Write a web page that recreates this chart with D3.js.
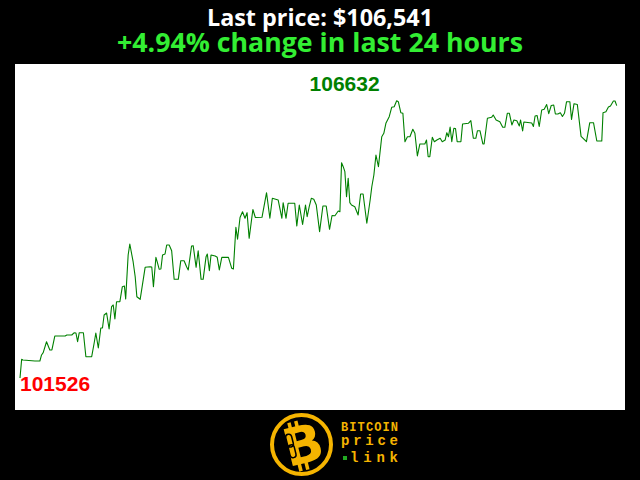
<!DOCTYPE html>
<html>
<head>
<meta charset="utf-8">
<script src="https://cdn.jsdelivr.net/npm/d3@7"></script>
<style>
html,body{margin:0;padding:0;background:#000;}
svg{display:block;}
</style>
</head>
<body>
<svg id="chart" width="640" height="480"></svg>
<script>
// minutes since start of the 24h window
const times = [0,4,7,36,48,52,56,64,72,77,84,109,113,125,131,135,139,143,153,159,173,179,183,189,195,199,203,209,215,221,225,229,233,241,247,252,255,261,265,273,278,282,290,302,314,318,322,328,331,336,340,344,350,354,360,366,372,382,388,396,402,406,414,418,425,430,437,442,449,452,457,461,471,476,481,487,503,511,515,521,525,531,537,543,548,553,562,568,584,591,595,603,609,623,632,635,642,647,663,668,674,682,689,693,698,703,709,715,723,731,739,747,753,760,768,772,776,780,784,788,792,796,800,808,816,822,828,837,845,849,854,859,865,873,878,883,891,897,903,909,913,919,924,929,935,941,948,953,959,965,977,981,985,989,995,1000,1006,1014,1019,1026,1030,1034,1038,1042,1047,1051,1055,1064,1068,1082,1088,1094,1100,1104,1110,1117,1120,1128,1138,1142,1149,1158,1165,1170,1176,1181,1187,1192,1199,1205,1208,1213,1216,1235,1239,1243,1248,1253,1259,1265,1271,1276,1282,1288,1292,1298,1304,1309,1314,1319,1327,1331,1337,1345,1354,1359,1367,1375,1384,1392,1404,1407,1414,1420,1425,1432,1436,1440];
// BTC price (USD)
const prices = [101526,101870,101857,101839,101839,101950,101992,102194,102042,102042,102299,102299,102318,102318,102360,102355,102194,102360,102360,101918,101918,102170,102355,102078,102447,102447,102686,102723,102428,102839,102870,102612,102931,102931,103207,103220,102981,103791,103993,103667,103391,103023,102975,103564,103575,103570,103207,103748,103667,103528,103533,103791,103809,103975,103975,103870,103343,103343,103686,103686,103575,103515,103957,103962,103564,103870,103343,103343,103760,103809,103502,103791,103772,103748,103515,103748,103748,103546,103533,104301,104080,104481,104588,104467,104570,104098,104629,104481,104485,104772,104938,104467,104835,104804,104467,104754,104467,104743,104743,104325,104711,104352,104711,104496,104680,104835,104816,104711,104220,104693,104693,104264,104518,104514,104601,104588,105490,105417,105325,104864,105203,104754,104711,104680,104527,104914,104914,104375,104804,105048,105264,105632,105417,105969,106032,106216,106337,106510,106521,106632,106614,106411,106400,105877,105969,105969,106105,106032,105614,105835,105835,105908,105601,105601,105958,105877,105908,105940,105877,105908,106043,105969,106148,105877,106124,106120,105877,105877,106203,106216,106264,105940,105940,106080,106080,105835,105835,106308,106326,106369,106277,106245,106142,106142,106400,106400,106185,106277,106264,106166,106277,106074,106240,106221,106157,106350,106359,106157,106461,106474,106562,106393,106544,106553,106387,106387,106411,106341,106400,106614,106614,106289,106577,106562,105976,105940,105877,106227,106227,105890,105890,106411,106429,106516,106534,106626,106626,106541];
const titleLine1 = "Last price: $106,541";
const titleLine2 = "+4.94% change in last 24 hours";
const logoLines = ["BITCOIN", "price", "link"];

const svg = d3.select("#chart");
svg.append("rect").attr("width",640).attr("height",480).attr("fill","#000");

// titles
svg.append("text").attr("x",320).attr("y",26).attr("text-anchor","middle")
  .attr("font-family","'Open Sans', sans-serif").attr("font-weight",700).attr("font-size",24)
  .attr("textLength",226).attr("lengthAdjust","spacingAndGlyphs")
  .attr("fill","#fff").text(titleLine1);
svg.append("text").attr("x",320).attr("y",52).attr("text-anchor","middle")
  .attr("font-family","'Open Sans', sans-serif").attr("font-weight",700).attr("font-size",27)
  .attr("textLength",406).attr("lengthAdjust","spacingAndGlyphs")
  .attr("fill","#33ee33").text(titleLine2);

// plot area
svg.append("rect").attr("x",15).attr("y",64).attr("width",610).attr("height",346).attr("fill","#fff");

const data = times.map((t,i)=>({t:t, p:prices[i]}));
const x = d3.scaleLinear().domain(d3.extent(times)).range([20, 616.7]);
const y = d3.scaleLinear().domain(d3.extent(prices)).range([378, 100.7]);

svg.append("path").datum(data)
  .attr("d", d3.line().x(d=>x(d.t)).y(d=>y(d.p)))
  .attr("fill","none").attr("stroke","#008000").attr("stroke-width",1.1)
  .attr("stroke-linejoin","round");

const maxD = data.reduce((a,b)=> b.p>a.p?b:a);
const minD = data.reduce((a,b)=> b.p<a.p?b:a);
svg.append("text").attr("x", x(maxD.t)-17).attr("y", y(maxD.p)-10)
  .attr("text-anchor","end").attr("font-family","'Liberation Sans', Arial, sans-serif")
  .attr("font-weight",700).attr("font-size",21).attr("fill","#008000").text(maxD.p);
svg.append("text").attr("x", x(minD.t)).attr("y", y(minD.p)+13)
  .attr("text-anchor","start").attr("font-family","'Liberation Sans', Arial, sans-serif")
  .attr("font-weight",700).attr("font-size",21).attr("fill","#ff0000").text(minD.p);

// logo
const gold = "#f5b400";
const logo = svg.append("g");
logo.append("circle").attr("cx",301.5).attr("cy",444.5).attr("r",29.5)
  .attr("fill","#000").attr("stroke",gold).attr("stroke-width",4);
const bg = logo.append("g").attr("transform","translate(303,445) rotate(-14)");
bg.append("rect").attr("x",-10).attr("y",-25).attr("width",3.5).attr("height",8).attr("fill",gold);
bg.append("rect").attr("x",-3).attr("y",-25).attr("width",3.5).attr("height",8).attr("fill",gold);
bg.append("rect").attr("x",-10).attr("y",17).attr("width",3.5).attr("height",8).attr("fill",gold);
bg.append("rect").attr("x",-3).attr("y",17).attr("width",3.5).attr("height",8).attr("fill",gold);
bg.append("text").attr("x",0).attr("y",18).attr("text-anchor","middle")
  .attr("font-family","'DejaVu Sans', sans-serif").attr("font-weight",700).attr("font-size",52)
  .attr("fill",gold).text("B");
bg.append("rect").attr("x",-15).attr("y",-14).attr("width",6).attr("height",13).attr("rx",3)
  .attr("fill","none").attr("stroke","#000").attr("stroke-width",1.5);
bg.append("rect").attr("x",-15).attr("y",-3).attr("width",6).attr("height",13).attr("rx",3)
  .attr("fill","none").attr("stroke","#000").attr("stroke-width",1.5);

const lx = 341, lw = 57;
logo.append("text").attr("x",lx).attr("y",431).attr("font-family","'Liberation Mono', monospace")
  .attr("font-weight",700).attr("font-size",12).attr("fill",gold)
  .attr("textLength",lw).attr("lengthAdjust","spacing").text(logoLines[0]);
logo.append("text").attr("x",lx).attr("y",445).attr("font-family","'Liberation Mono', monospace")
  .attr("font-weight",700).attr("font-size",14).attr("fill",gold)
  .attr("textLength",lw).attr("lengthAdjust","spacing").text(logoLines[1]);
logo.append("rect").attr("x",343).attr("y",456).attr("width",4).attr("height",4).attr("fill","#22aa22");
logo.append("text").attr("x",350).attr("y",462).attr("font-family","'Liberation Mono', monospace")
  .attr("font-weight",700).attr("font-size",14).attr("fill",gold)
  .attr("textLength",48).attr("lengthAdjust","spacing").text(logoLines[2]);
</script>
</body>
</html>
